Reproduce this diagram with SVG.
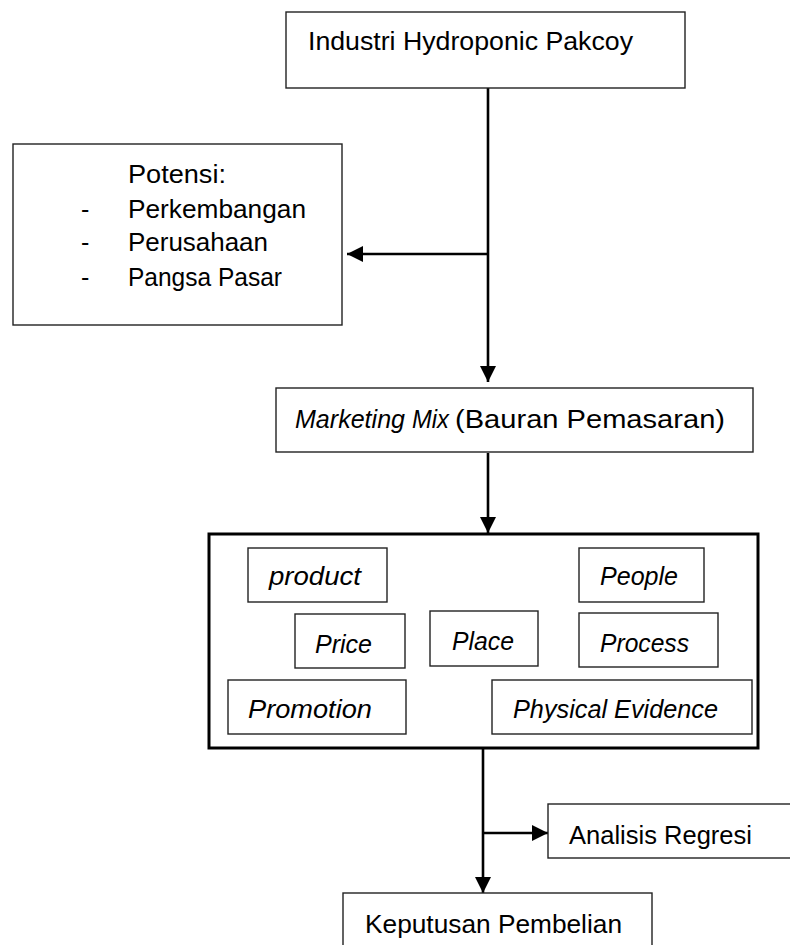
<svg xmlns="http://www.w3.org/2000/svg" width="790" height="945" viewBox="0 0 790 945">
<style>
.box{fill:#fff;stroke:#222;stroke-width:1.4}
.big{fill:#fff;stroke:#000;stroke-width:3}
.t{font-family:"Liberation Sans",Arial,sans-serif;font-size:25px;fill:#000}
.i{font-style:italic}
.c{stroke:#000;stroke-width:2.6;fill:none}
</style>
<defs>
<marker id="ah" markerUnits="userSpaceOnUse" markerWidth="17" markerHeight="16" refX="16" refY="8" orient="auto">
<path d="M0,0 L16,8 L0,16 Z" fill="#000"/>
</marker>
</defs>
<g id="connectors">
<line class="c" x1="488" y1="88" x2="488" y2="382" marker-end="url(#ah)"/>
<line class="c" x1="488" y1="254" x2="347" y2="254" marker-end="url(#ah)"/>
<line class="c" x1="488" y1="453" x2="488" y2="533" marker-end="url(#ah)"/>
<line class="c" x1="483" y1="748" x2="483" y2="893" marker-end="url(#ah)"/>
<line class="c" x1="483" y1="833" x2="548" y2="833" marker-end="url(#ah)"/>
</g>
<g id="industri">
<rect class="box" x="286" y="12" width="399" height="76"/>
<text class="t" x="308" y="50" textLength="325" lengthAdjust="spacingAndGlyphs">Industri Hydroponic Pakcoy</text>
</g>
<g id="potensi">
<rect class="box" x="13" y="144" width="329" height="181"/>
<text class="t" x="128" y="183" textLength="98" lengthAdjust="spacingAndGlyphs">Potensi:</text>
<text class="t" x="81" y="218">-</text>
<text class="t" x="128" y="218" textLength="178" lengthAdjust="spacingAndGlyphs">Perkembangan</text>
<text class="t" x="81" y="251">-</text>
<text class="t" x="128" y="251" textLength="140" lengthAdjust="spacingAndGlyphs">Perusahaan</text>
<text class="t" x="81" y="286">-</text>
<text class="t" x="128" y="286" textLength="154" lengthAdjust="spacingAndGlyphs">Pangsa Pasar</text>
</g>
<g id="marketing-mix">
<rect class="box" x="276" y="388" width="477" height="64"/>
<text class="t i" x="295" y="428" textLength="110" lengthAdjust="spacingAndGlyphs">Marketing</text>
<text class="t i" x="412" y="428" textLength="37" lengthAdjust="spacingAndGlyphs">Mix</text>
<text class="t" x="455" y="428" textLength="270" lengthAdjust="spacingAndGlyphs">(Bauran Pemasaran)</text>
</g>
<g id="mix-elements">
<rect class="big" x="209" y="534" width="549" height="214"/>
<g id="product">
<rect class="box" x="248" y="548" width="139" height="54"/>
<text class="t i" x="269" y="585" textLength="92" lengthAdjust="spacingAndGlyphs">product</text>
</g>
<g id="people">
<rect class="box" x="579" y="548" width="125" height="54"/>
<text class="t i" x="600" y="585" textLength="78" lengthAdjust="spacingAndGlyphs">People</text>
</g>
<g id="price">
<rect class="box" x="295" y="614" width="110" height="54"/>
<text class="t i" x="315" y="653" textLength="57" lengthAdjust="spacingAndGlyphs">Price</text>
</g>
<g id="place">
<rect class="box" x="430" y="611" width="108" height="55"/>
<text class="t i" x="452" y="650" textLength="62" lengthAdjust="spacingAndGlyphs">Place</text>
</g>
<g id="process">
<rect class="box" x="579" y="613" width="139" height="54"/>
<text class="t i" x="600" y="652" textLength="89" lengthAdjust="spacingAndGlyphs">Process</text>
</g>
<g id="promotion">
<rect class="box" x="228" y="680" width="178" height="54"/>
<text class="t i" x="248" y="718" textLength="124" lengthAdjust="spacingAndGlyphs">Promotion</text>
</g>
<g id="physical-evidence">
<rect class="box" x="492" y="680" width="260" height="54"/>
<text class="t i" x="513" y="718" textLength="205" lengthAdjust="spacingAndGlyphs">Physical Evidence</text>
</g>
</g>
<g id="analisis">
<rect class="box" x="548" y="804" width="260" height="54"/>
<text class="t" x="569" y="844" textLength="183" lengthAdjust="spacingAndGlyphs">Analisis Regresi</text>
</g>
<g id="keputusan">
<rect class="box" x="343" y="893" width="309" height="70"/>
<text class="t" x="365" y="933" textLength="257" lengthAdjust="spacingAndGlyphs">Keputusan Pembelian</text>
</g>
</svg>
